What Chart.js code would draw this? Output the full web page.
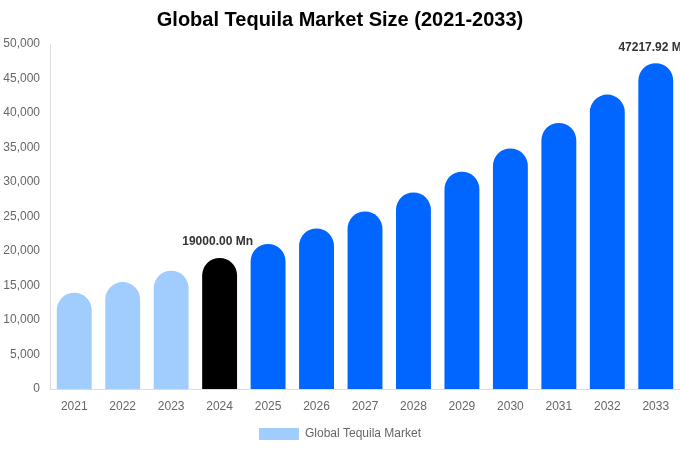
<!DOCTYPE html>
<html>
<head>
<meta charset="utf-8">
<script src="https://cdn.jsdelivr.net/npm/chart.js@4"></script>
<style>
  html, body { margin: 0; padding: 0; background: #fff; }
  .chart-wrapper { width: 680px; height: 450px; }
</style>
</head>
<body>
<div class="chart-wrapper"><canvas id="market-chart"></canvas></div>
<script>
const years = ['2021', '2022', '2023', '2024', '2025', '2026', '2027', '2028', '2029', '2030', '2031', '2032', '2033'];
const marketSize = [13950, 15500, 17150, 19000, 21030, 23260, 25730, 28480, 31500, 34860, 38560, 42670, 47217.92];
const labelledYears = ['2024', '2033'];
const yTicks = [0, 5000, 10000, 15000, 20000, 25000, 30000, 35000, 40000, 45000, 50000];

const HISTORIC = '#a0cdfd';
const BASE = '#000000';
const FORECAST = '#0066ff';
const FONT = '"Liberation Sans", Arial, sans-serif';

const barColors = years.map(y => (y < '2024' ? HISTORIC : y === '2024' ? BASE : FORECAST));

// value labels above the base year and the last forecast year
const valueLabels = {
  id: 'valueLabels',
  afterDatasetsDraw(chart) {
    const { ctx } = chart;
    const meta = chart.getDatasetMeta(0);
    ctx.save();
    ctx.font = `bold 12px ${FONT}`;
    ctx.fillStyle = '#333';
    ctx.textAlign = 'center';
    ctx.textBaseline = 'bottom';
    meta.data.forEach((bar, i) => {
      if (!labelledYears.includes(years[i])) return;
      ctx.fillText(`${marketSize[i].toFixed(2)} Mn`, bar.x - 2, bar.y - 10);
    });
    ctx.restore();
  },
};

const ctx = document.getElementById('market-chart').getContext('2d');
new Chart(ctx, {
  type: 'bar',
  data: {
    labels: years,
    datasets: [{
      label: 'Global Tequila Market',
      data: marketSize,
      backgroundColor: barColors,
      borderWidth: 0,
      borderRadius: { topLeft: 18, topRight: 18 },
      borderSkipped: 'bottom',
      barPercentage: 0.9,
      categoryPercentage: 0.8,
    }],
  },
  options: {
    responsive: true,
    maintainAspectRatio: false,
    animation: false,
    layout: { padding: 0 },
    plugins: {
      title: {
        display: true,
        text: 'Global Tequila Market Size (2021-2033)',
        color: '#000',
        font: { family: FONT, size: 20, weight: 'bold' },
        padding: { top: 8, bottom: 12 },
      },
      legend: {
        position: 'bottom',
        labels: {
          color: '#666',
          font: { family: FONT, size: 12 },
          boxWidth: 40,
          boxHeight: 12,
          padding: 10,
          generateLabels: () => [{
            text: 'Global Tequila Market',
            fillStyle: HISTORIC,
            strokeStyle: HISTORIC,
            fontColor: '#666',
            lineWidth: 0,
            datasetIndex: 0,
          }],
        },
      },
      tooltip: { enabled: false },
    },
    scales: {
      x: {
        grid: { display: false, drawTicks: false },
        border: { display: true, color: '#ddd' },
        ticks: { color: '#666', font: { family: FONT, size: 12 }, padding: 10 },
        afterFit: axis => { axis.height = 29; },
      },
      y: {
        min: 0,
        max: 50000,
        afterBuildTicks: axis => { axis.ticks = yTicks.map(v => ({ value: v })); },
        grid: { display: false, drawTicks: false },
        border: { display: true, color: '#ddd' },
        ticks: {
          color: '#666',
          font: { family: FONT, size: 12 },
          padding: 10,
          callback: v => v.toLocaleString('en-US'),
        },
        afterFit: axis => { axis.width = 50; },
      },
    },
  },
  plugins: [valueLabels],
});
</script>
</body>
</html>
